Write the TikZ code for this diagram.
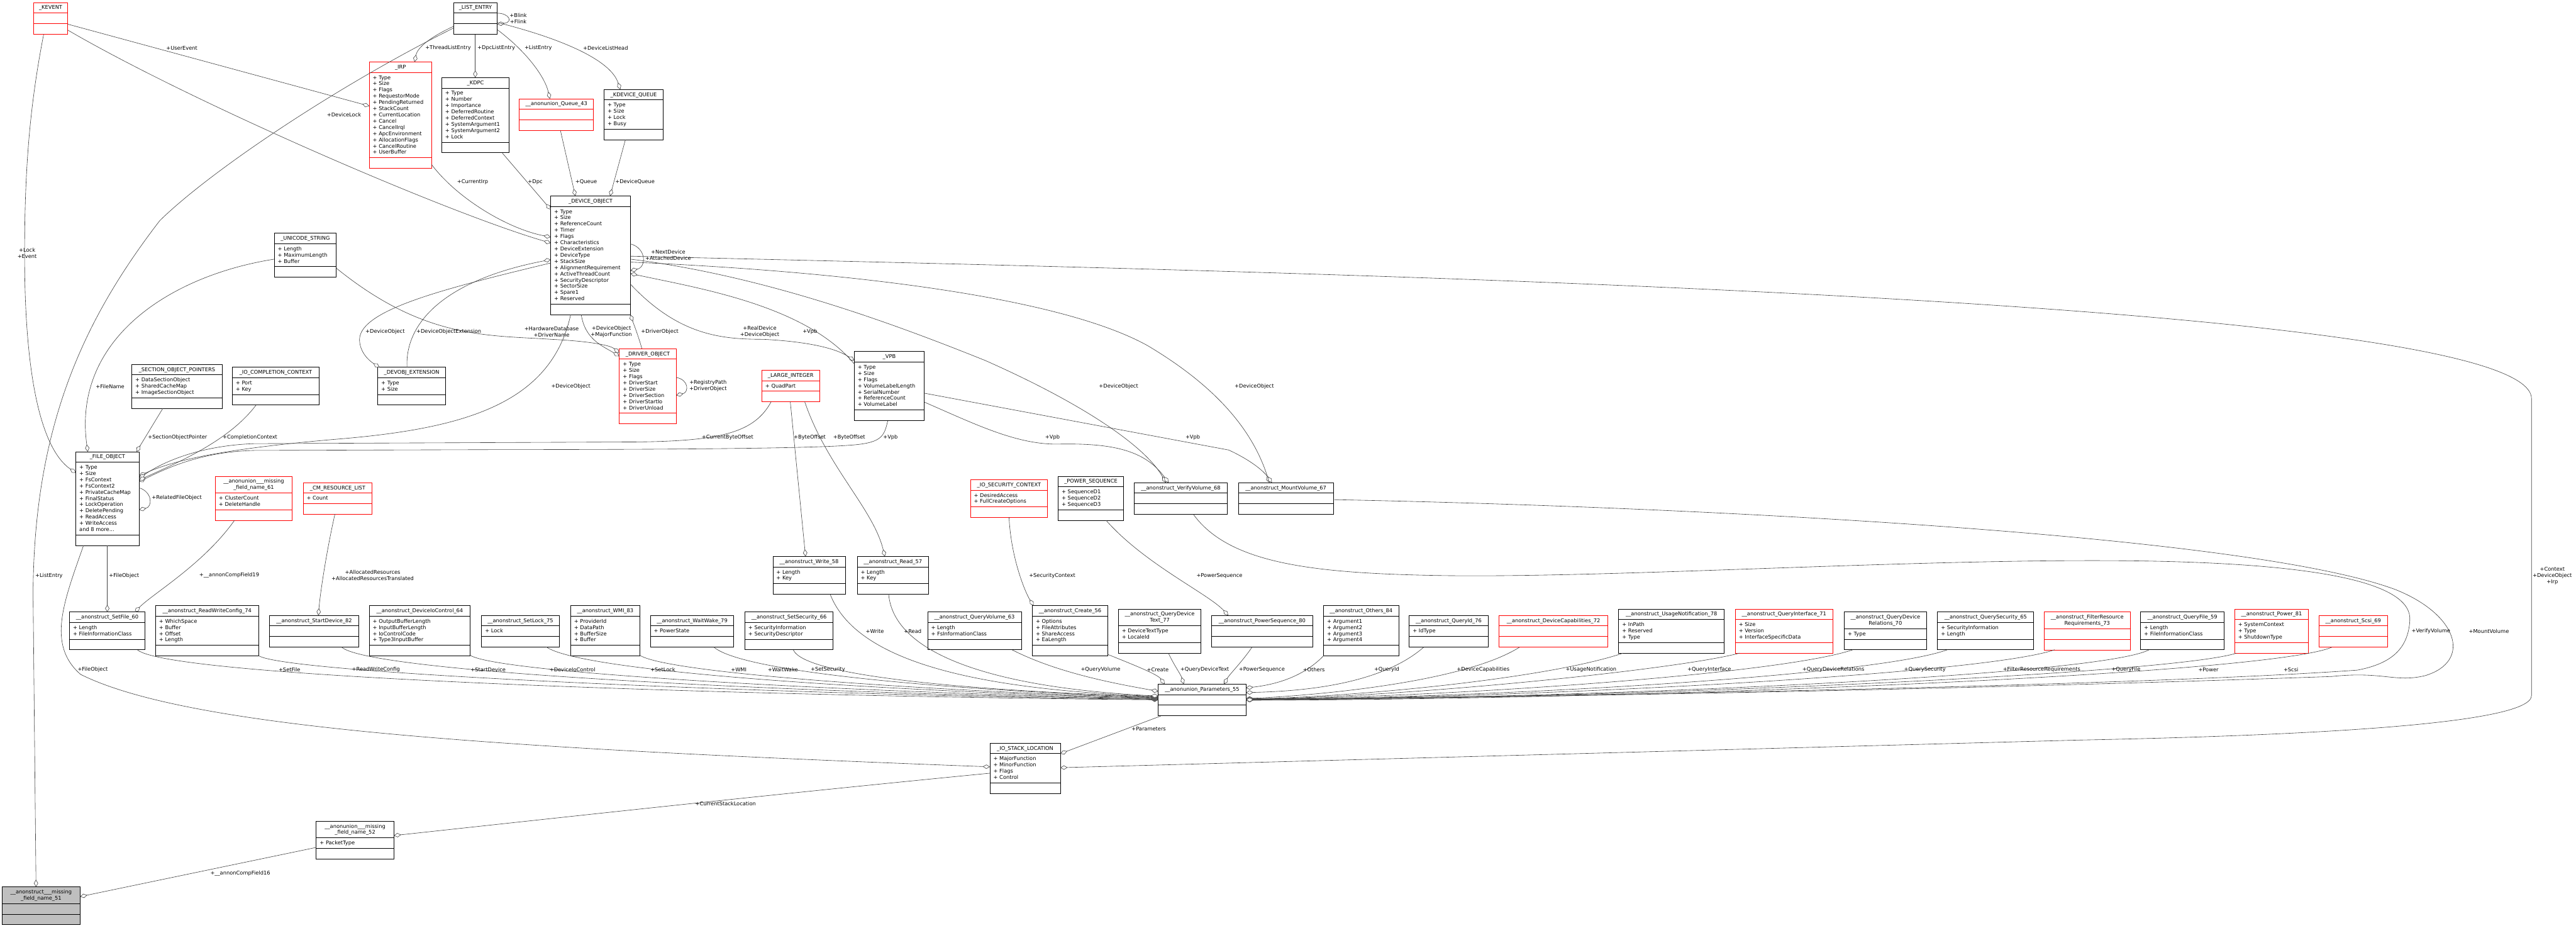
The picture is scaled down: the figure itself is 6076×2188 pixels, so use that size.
\documentclass[tikz,border=0pt]{standalone}
\usepackage{fontspec}
\setmainfont{DejaVu Sans}
\usetikzlibrary{arrows.meta}
\definecolor{edgec}{HTML}{404040}
\definecolor{gfill}{HTML}{BFBFBF}
\tikzset{
  txt/.style={inner sep=0pt, font=\fontsize{12.3}{14.7}\selectfont},
  kbox/.style={draw=black, fill=white, line width=1.3pt},
  rbox/.style={draw=red, fill=white, line width=1.3pt},
  gbox/.style={draw=black, fill=gfill, line width=1.3pt},
  conn/.style={draw=edgec, line width=0.9pt, -{Diamond[fill=white, length=17pt, width=10pt]}}
}
\newcommand\mkbox[9]{%
  \pgfmathsetmacro\mbTH{10+14.7*#5}%
  \pgfmathsetmacro\mbAH{(#6==0) ? 25 : 10+14.7*#6}%
  \pgfmathsetmacro\mbTOT{\mbTH+\mbAH+25}%
  \pgfmathsetmacro\mbWD{#4-#2}%
  \expandafter\xdef\csname bx@#1\endcsname{#2}%
  \expandafter\xdef\csname by@#1\endcsname{#3}%
  \node[#7, minimum width=\mbWD pt, minimum height=\mbTOT pt, anchor=north west, inner sep=0pt, outer sep=0pt] (#1) at (#2,#3) {};
  \draw[#7, fill=none] (#2,#3+\mbTH) -- (#4,#3+\mbTH) (#2,#3+\mbTH+\mbAH) -- (#4,#3+\mbTH+\mbAH);
  \node[txt, anchor=north, align=center] (#1-title) at ({(#2+#4)/2},#3+6) {\rule{0pt}{10pt}#8};
  \if\relax\detokenize{#9}\relax\else
  \node[txt, anchor=north west, align=left] (#1-attr) at (#2+8,#3+\mbTH+6) {\rule{0pt}{10pt}#9};
  \fi
}
\newcommand\pB[3]{([shift={({#2-\csname bx@#1\endcsname},{#3-\csname by@#1\endcsname})}]#1.north west)}
\newcommand\mklab[5][west]{\node[txt, anchor=#1, align=center] (#2) at (#3,#4) {#5};}
\begin{document}
\begin{tikzpicture}[x=1pt,y=-1pt]
\fill[white] (0,0) rectangle (6076,2188);
\useasboundingbox (0,0) rectangle (6076,2188);
% ---------------- boxes ----------------
\mkbox{kevent}{79}{6}{160}{1}{0}{rbox}{\_KEVENT}{}
\mkbox{le}{1070}{6}{1173}{1}{0}{kbox}{\_LIST\_ENTRY}{}
\mkbox{irp}{871}{146}{1018}{1}{13}{rbox}{\_IRP}{+ Type\\+ Size\\+ Flags\\+ RequestorMode\\+ PendingReturned\\+ StackCount\\+ CurrentLocation\\+ Cancel\\+ CancelIrql\\+ ApcEnvironment\\+ AllocationFlags\\+ CancelRoutine\\+ UserBuffer}
\mkbox{kdpc}{1042}{183}{1201}{1}{8}{kbox}{\_KDPC}{+ Type\\+ Number\\+ Importance\\+ DeferredRoutine\\+ DeferredContext\\+ SystemArgument1\\+ SystemArgument2\\+ Lock}
\mkbox{queue}{1225}{233}{1400}{1}{0}{rbox}{\_\_anonunion\_Queue\_43}{}
\mkbox{kdq}{1425}{211}{1564}{1}{4}{kbox}{\_KDEVICE\_QUEUE}{+ Type\\+ Size\\+ Lock\\+ Busy}
\mkbox{devobj}{1299}{462}{1487}{1}{15}{kbox}{\_DEVICE\_OBJECT}{+ Type\\+ Size\\+ ReferenceCount\\+ Timer\\+ Flags\\+ Characteristics\\+ DeviceExtension\\+ DeviceType\\+ StackSize\\+ AlignmentRequirement\\+ ActiveThreadCount\\+ SecurityDescriptor\\+ SectorSize\\+ Spare1\\+ Reserved}
\mkbox{ustr}{647}{550}{793}{1}{3}{kbox}{\_UNICODE\_STRING}{+ Length\\+ MaximumLength\\+ Buffer}
\mkbox{dext}{891}{866}{1051}{1}{2}{kbox}{\_DEVOBJ\_EXTENSION}{+ Type\\+ Size}
\mkbox{iocc}{548}{866}{753}{1}{2}{kbox}{\_IO\_COMPLETION\_CONTEXT}{+ Port\\+ Key}
\mkbox{sop}{311}{859}{524}{1}{3}{kbox}{\_SECTION\_OBJECT\_POINTERS}{+ DataSectionObject\\+ SharedCacheMap\\+ ImageSectionObject}
\mkbox{drv}{1461}{822}{1595}{1}{8}{rbox}{\_DRIVER\_OBJECT}{+ Type\\+ Size\\+ Flags\\+ DriverStart\\+ DriverSize\\+ DriverSection\\+ DriverStartIo\\+ DriverUnload}
\mkbox{fo}{179}{1065}{328}{1}{11}{kbox}{\_FILE\_OBJECT}{+ Type\\+ Size\\+ FsContext\\+ FsContext2\\+ PrivateCacheMap\\+ FinalStatus\\+ LockOperation\\+ DeletePending\\+ ReadAccess\\+ WriteAccess\\and 8 more...}
\mkbox{an61}{508}{1123}{689}{2}{2}{rbox}{\_\_anonunion\_\_\_missing\\\_field\_name\_61}{+ ClusterCount\\+ DeleteHandle}
\mkbox{cm}{715}{1138}{878}{1}{1}{rbox}{\_CM\_RESOURCE\_LIST}{+ Count}
\mkbox{li}{1797}{873}{1933}{1}{1}{rbox}{\_LARGE\_INTEGER}{+ QuadPart}
\mkbox{vpb}{2015}{829}{2180}{1}{7}{kbox}{\_VPB}{+ Type\\+ Size\\+ Flags\\+ VolumeLabelLength\\+ SerialNumber\\+ ReferenceCount\\+ VolumeLabel}
\mkbox{isc}{2289}{1131}{2471}{1}{2}{rbox}{\_IO\_SECURITY\_CONTEXT}{+ DesiredAccess\\+ FullCreateOptions}
\mkbox{ps}{2496}{1123}{2650}{1}{3}{kbox}{\_POWER\_SEQUENCE}{+ SequenceD1\\+ SequenceD2\\+ SequenceD3}
\mkbox{vv}{2675}{1138}{2895}{1}{0}{kbox}{\_\_anonstruct\_VerifyVolume\_68}{}
\mkbox{mv}{2921}{1138}{3145}{1}{0}{kbox}{\_\_anonstruct\_MountVolume\_67}{}
\mkbox{setfile}{164}{1443}{342}{1}{2}{kbox}{\_\_anonstruct\_SetFile\_60}{+ Length\\+ FileInformationClass}
\mkbox{rwc}{367}{1428}{610}{1}{4}{kbox}{\_\_anonstruct\_ReadWriteConfig\_74}{+ WhichSpace\\+ Buffer\\+ Offset\\+ Length}
\mkbox{sd}{636}{1451}{846}{1}{0}{kbox}{\_\_anonstruct\_StartDevice\_82}{}
\mkbox{dic}{871}{1428}{1109}{1}{4}{kbox}{\_\_anonstruct\_DeviceIoControl\_64}{+ OutputBufferLength\\+ InputBufferLength\\+ IoControlCode\\+ Type3InputBuffer}
\mkbox{sl}{1136}{1451}{1319}{1}{1}{kbox}{\_\_anonstruct\_SetLock\_75}{+ Lock}
\mkbox{wmi}{1346}{1428}{1509}{1}{4}{kbox}{\_\_anonstruct\_WMI\_83}{+ ProviderId\\+ DataPath\\+ BufferSize\\+ Buffer}
\mkbox{ww}{1534}{1451}{1731}{1}{1}{kbox}{\_\_anonstruct\_WaitWake\_79}{+ PowerState}
\mkbox{ss}{1757}{1443}{1965}{1}{2}{kbox}{\_\_anonstruct\_SetSecurity\_66}{+ SecurityInformation\\+ SecurityDescriptor}
\mkbox{wr}{1823}{1312}{1994}{1}{2}{kbox}{\_\_anonstruct\_Write\_58}{+ Length\\+ Key}
\mkbox{rd}{2022}{1312}{2190}{1}{2}{kbox}{\_\_anonstruct\_Read\_57}{+ Length\\+ Key}
\mkbox{qv}{2188}{1443}{2409}{1}{2}{kbox}{\_\_anonstruct\_QueryVolume\_63}{+ Length\\+ FsInformationClass}
\mkbox{cr}{2435}{1428}{2613}{1}{4}{kbox}{\_\_anonstruct\_Create\_56}{+ Options\\+ FileAttributes\\+ ShareAccess\\+ EaLength}
\mkbox{qdt}{2638}{1436}{2833}{2}{2}{kbox}{\_\_anonstruct\_QueryDevice\\Text\_77}{+ DeviceTextType\\+ LocaleId}
\mkbox{psq}{2858}{1451}{3096}{1}{0}{kbox}{\_\_anonstruct\_PowerSequence\_80}{}
\mkbox{oth}{3122}{1428}{3299}{1}{4}{kbox}{\_\_anonstruct\_Others\_84}{+ Argument1\\+ Argument2\\+ Argument3\\+ Argument4}
\mkbox{par}{2732}{1613}{2939}{1}{0}{kbox}{\_\_anonunion\_Parameters\_55}{}
\mkbox{qid}{3324}{1451}{3510}{1}{1}{kbox}{\_\_anonstruct\_QueryId\_76}{+ IdType}
\mkbox{dc}{3536}{1451}{3792}{1}{0}{rbox}{\_\_anonstruct\_DeviceCapabilities\_72}{}
\mkbox{un}{3818}{1436}{4067}{1}{3}{kbox}{\_\_anonstruct\_UsageNotification\_78}{+ InPath\\+ Reserved\\+ Type}
\mkbox{qi}{4093}{1436}{4323}{1}{3}{rbox}{\_\_anonstruct\_QueryInterface\_71}{+ Size\\+ Version\\+ InterfaceSpecificData}
\mkbox{qdr}{4350}{1443}{4544}{2}{1}{kbox}{\_\_anonstruct\_QueryDevice\\Relations\_70}{+ Type}
\mkbox{qs}{4570}{1443}{4797}{1}{2}{kbox}{\_\_anonstruct\_QuerySecurity\_65}{+ SecurityInformation\\+ Length}
\mkbox{frr}{4821}{1443}{5025}{2}{0}{rbox}{\_\_anonstruct\_FilterResource\\Requirements\_73}{}
\mkbox{qf}{5049}{1443}{5246}{1}{2}{kbox}{\_\_anonstruct\_QueryFile\_59}{+ Length\\+ FileInformationClass}
\mkbox{pw}{5271}{1436}{5445}{1}{3}{rbox}{\_\_anonstruct\_Power\_81}{+ SystemContext\\+ Type\\+ ShutdownType}
\mkbox{scsi}{5470}{1451}{5631}{1}{0}{rbox}{\_\_anonstruct\_Scsi\_69}{}
\mkbox{ios}{2335}{1752}{2501}{1}{4}{kbox}{\_IO\_STACK\_LOCATION}{+ MajorFunction\\+ MinorFunction\\+ Flags\\+ Control}
\mkbox{an52}{746}{1936}{929}{2}{1}{kbox}{\_\_anonunion\_\_\_missing\\\_field\_name\_52}{+ PacketType}
\mkbox{an51}{5}{2091}{189}{2}{0}{gbox}{\_\_anonstruct\_\_\_missing\\\_field\_name\_51}{}
% ---------------- connectors ----------------
\draw[conn] \pB{le}{1173}{31} .. controls (1200,31) and (1212,52) .. \pB{le}{1173}{57};
\draw[conn] \pB{le}{1070}{62} .. controls (1020,85) and (985,110) .. \pB{irp}{978}{146};
\draw[conn] \pB{le}{1121}{82} -- \pB{kdpc}{1121}{183};
\draw[conn] \pB{le}{1173}{70} .. controls (1240,120) and (1285,180) .. \pB{queue}{1297}{233};
\draw[conn] \pB{le}{1173}{53} .. controls (1320,90) and (1440,140) .. \pB{kdq}{1463}{211};
\draw[conn] \pB{kevent}{160}{57} -- \pB{irp}{871}{250};
\draw[conn] \pB{kevent}{160}{71} .. controls (450,240) and (1050,500) .. \pB{devobj}{1299}{573};
\draw[conn] \pB{irp}{1018}{388} .. controls (1080,470) and (1200,540) .. \pB{devobj}{1299}{559};
\draw[conn] \pB{kdpc}{1185}{361} -- \pB{devobj}{1299}{494};
\draw[conn] \pB{queue}{1322}{308} -- \pB{devobj}{1357}{462};
\draw[conn] \pB{kdq}{1475}{330} -- \pB{devobj}{1439}{462};
\draw[conn] \pB{devobj}{1487}{575} .. controls (1525,585) and (1525,630) .. \pB{devobj}{1487}{638};
\draw[conn] \pB{ustr}{793}{632} .. controls (1000,800) and (1150,790) .. (1300,800) .. controls (1400,805) and (1440,815) .. \pB{drv}{1461}{832};
\draw[conn] \pB{ustr}{647}{611} .. controls (400,650) and (170,800) .. \pB{fo}{207}{1065};
\draw[conn] \pB{devobj}{1371}{742} .. controls (1380,800) and (1420,815) .. \pB{drv}{1461}{840};
\draw[conn] \pB{drv}{1514}{822} .. controls (1505,790) and (1495,765) .. \pB{devobj}{1487}{742};
\draw[conn] \pB{devobj}{1299}{620} .. controls (1050,680) and (850,730) .. (848,800) .. controls (848,830) and (870,850) .. \pB{dext}{895}{866};
\draw[conn] \pB{dext}{960}{866} .. controls (955,760) and (1050,660) .. \pB{devobj}{1299}{612};
\draw[conn] \pB{drv}{1595}{890} .. controls (1625,895) and (1625,925) .. \pB{drv}{1595}{932};
\draw[conn] \pB{devobj}{1346}{742} .. controls (1300,950) and (1100,1010) .. (800,1035) .. controls (500,1060) and (400,1090) .. \pB{fo}{328}{1122};
\draw[conn] \pB{li}{1819}{947} .. controls (1780,1020) and (1700,1040) .. (1500,1042) -- (600,1046) .. controls (480,1050) and (390,1085) .. \pB{fo}{328}{1128};
\draw[conn] \pB{vpb}{2094}{992} .. controls (2085,1030) and (2080,1045) .. (2000,1050) .. controls (1900,1058) and (1500,1060) .. (1200,1060) -- (600,1062) .. controls (480,1065) and (400,1100) .. \pB{fo}{328}{1136};
\draw[conn] \pB{iocc}{604}{955} .. controls (540,1040) and (420,1090) .. \pB{fo}{328}{1132};
\draw[conn] \pB{sop}{384}{963} -- \pB{fo}{322}{1065};
\draw[conn] \pB{fo}{328}{1150} .. controls (360,1160) and (360,1195) .. \pB{fo}{328}{1202};
\draw[conn] \pB{kevent}{103}{81} .. controls (70,250) and (58,400) .. (58,600) .. controls (58,900) and (100,1060) .. \pB{fo}{179}{1115};
\draw[conn] \pB{le}{1070}{66} .. controls (800,200) and (500,400) .. (377,520) .. controls (200,750) and (80,1000) .. (78,1400) -- \pB{an51}{85}{2091};
\draw[conn] \pB{fo}{253}{1286} -- \pB{setfile}{253}{1443};
\draw[conn] \pB{fo}{197}{1286} .. controls (150,1420) and (110,1520) .. (190,1590) .. controls (450,1720) and (1200,1765) .. \pB{ios}{2335}{1808};
\draw[conn] \pB{an61}{553}{1227} .. controls (480,1330) and (360,1400) .. \pB{setfile}{318}{1443};
\draw[conn] \pB{cm}{790}{1212} .. controls (770,1300) and (755,1400) .. \pB{sd}{751}{1451};
\draw[conn] \pB{li}{1864}{947} -- \pB{wr}{1900}{1312};
\draw[conn] \pB{li}{1898}{947} .. controls (1950,1100) and (2060,1200) .. \pB{rd}{2087}{1312};
\draw[conn] \pB{devobj}{1487}{670} .. controls (1600,790) and (1700,800) .. (1800,800) .. controls (1900,805) and (1970,820) .. \pB{vpb}{2015}{850};
\draw[conn] \pB{vpb}{2015}{858} .. controls (1900,720) and (1650,680) .. \pB{devobj}{1487}{645};
\draw[conn] \pB{devobj}{1487}{611} .. controls (1800,650) and (2100,760) .. (2324,850) .. controls (2550,950) and (2700,1050) .. \pB{vv}{2750}{1138};
\draw[conn] \pB{devobj}{1487}{618} .. controls (2000,640) and (2500,700) .. (2707,815) .. controls (2850,900) and (2950,1000) .. \pB{mv}{2994}{1138};
\draw[conn] \pB{vpb}{2180}{948} .. controls (2300,1000) and (2400,1050) .. (2500,1047) .. controls (2620,1045) and (2700,1060) .. \pB{vv}{2756}{1138};
\draw[conn] \pB{vpb}{2180}{927} -- (2898,1061) .. controls (2950,1085) and (2980,1110) .. \pB{mv}{3000}{1138};
\draw[conn] \pB{isc}{2380}{1220} .. controls (2385,1320) and (2420,1400) .. \pB{cr}{2438}{1428};
\draw[conn] \pB{ps}{2609}{1227} .. controls (2700,1330) and (2850,1400) .. \pB{psq}{2897}{1451};
% parameter structs
\draw[conn] \pB{setfile}{324}{1532} .. controls (400,1600) and (1800,1642) .. \pB{par}{2732}{1650};
\draw[conn] \pB{rwc}{610}{1546} .. controls (680,1590) and (1900,1640) .. \pB{par}{2732}{1649};
\draw[conn] \pB{sd}{806}{1526} .. controls (880,1590) and (2000,1638) .. \pB{par}{2732}{1648};
\draw[conn] \pB{dic}{1109}{1545} .. controls (1180,1590) and (2100,1636) .. \pB{par}{2732}{1647};
\draw[conn] \pB{sl}{1288}{1525} .. controls (1380,1590) and (2200,1634) .. \pB{par}{2732}{1646};
\draw[conn] \pB{wmi}{1509}{1545} .. controls (1580,1590) and (2250,1632) .. \pB{par}{2732}{1645};
\draw[conn] \pB{ww}{1684}{1526} .. controls (1760,1590) and (2300,1630) .. \pB{par}{2732}{1644};
\draw[conn] \pB{ss}{1871}{1532} .. controls (1900,1600) and (2350,1630) .. \pB{par}{2732}{1643};
\draw[conn] \pB{wr}{1958}{1401} .. controls (2020,1560) and (2300,1625) .. \pB{par}{2732}{1642};
\draw[conn] \pB{rd}{2096}{1401} .. controls (2110,1560) and (2400,1625) .. \pB{par}{2732}{1641};
\draw[conn] \pB{qv}{2387}{1532} .. controls (2500,1590) and (2650,1615) .. \pB{par}{2732}{1630};
\draw[conn] \pB{cr}{2613}{1543} .. controls (2680,1570) and (2730,1590) .. \pB{par}{2747}{1613};
\draw[conn] \pB{qdt}{2756}{1540} .. controls (2770,1570) and (2785,1590) .. \pB{par}{2792}{1613};
\draw[conn] \pB{psq}{2953}{1526} .. controls (2930,1560) and (2900,1590) .. \pB{par}{2887}{1613};
\draw[conn] \pB{oth}{3122}{1546} .. controls (3070,1600) and (3000,1615) .. \pB{par}{2939}{1622};
\draw[conn] \pB{qid}{3358}{1526} .. controls (3250,1620) and (3050,1630) .. \pB{par}{2939}{1633};
\draw[conn] \pB{dc}{3584}{1526} .. controls (3450,1610) and (3100,1640) .. \pB{par}{2939}{1647};
\draw[conn] \pB{un}{3828}{1540} .. controls (3650,1600) and (3200,1643) .. \pB{par}{2939}{1648};
\draw[conn] \pB{qi}{4103}{1540} .. controls (3950,1580) and (3300,1645) .. \pB{par}{2939}{1648};
\draw[conn] \pB{qdr}{4370}{1532} .. controls (4200,1590) and (3400,1645) .. \pB{par}{2939}{1648};
\draw[conn] \pB{qs}{4593}{1532} .. controls (4420,1595) and (3500,1646) .. \pB{par}{2939}{1649};
\draw[conn] \pB{frr}{4846}{1532} .. controls (4680,1590) and (3600,1647) .. \pB{par}{2939}{1649};
\draw[conn] \pB{qf}{5069}{1532} .. controls (4950,1595) and (3700,1648) .. \pB{par}{2939}{1650};
\draw[conn] \pB{pw}{5275}{1540} .. controls (5120,1590) and (3800,1648) .. \pB{par}{2939}{1650};
\draw[conn] \pB{scsi}{5500}{1526} .. controls (5350,1590) and (3900,1649) .. \pB{par}{2939}{1651};
\draw[conn] \pB{vv}{2815}{1213} .. controls (2900,1330) and (3100,1352) .. (3400,1357) .. controls (3800,1363) and (4500,1318) .. (5000,1322) .. controls (5500,1326) and (5690,1380) .. (5684,1463) .. controls (5680,1530) and (5640,1565) .. (5560,1580) .. controls (5000,1620) and (3500,1645) .. \pB{par}{2939}{1648};
\draw[conn] \pB{mv}{3145}{1178} .. controls (4000,1195) and (5300,1260) .. (5650,1390) .. controls (5800,1450) and (5830,1560) .. (5720,1593) .. controls (5650,1610) and (5620,1582) .. (5500,1595) .. controls (4500,1630) and (3500,1645) .. \pB{par}{2939}{1650};
\draw[conn] \pB{devobj}{1487}{604} .. controls (3000,640) and (5971,700) .. (5971,940) -- (5971,1640) .. controls (5971,1710) and (5400,1735) .. (4900,1745) -- \pB{ios}{2501}{1810};
\draw[conn] \pB{par}{2738}{1688} -- \pB{ios}{2501}{1777};
\draw[conn] \pB{ios}{2335}{1823} .. controls (1800,1875) and (1300,1930) .. \pB{an52}{929}{1970};
\draw[conn] \pB{an52}{746}{1998} -- \pB{an51}{189}{2114};
% ---------------- labels ----------------
\mklab{lBlink}{1202}{43}{+Blink\\+Flink}
\mklab{lThread}{1003}{113}{+ThreadListEntry}
\mklab{lDpcLE}{1126}{113}{+DpcListEntry}
\mklab{lLE}{1237}{113}{+ListEntry}
\mklab{lDLH}{1375}{113}{+DeviceListHead}
\mklab{lUserEvent}{392}{113}{+UserEvent}
\mklab{lDeviceLock}{771}{271}{+DeviceLock}
\mklab{lCurIrp}{1078}{429}{+CurrentIrp}
\mklab{lDpc}{1245}{429}{+Dpc}
\mklab{lQueue}{1357}{429}{+Queue}
\mklab{lDQ}{1451}{429}{+DeviceQueue}
\mklab[center]{lNext}{1576}{602}{+NextDevice\\+AttachedDevice}
\mklab{lDOext}{862}{782}{+DeviceObject}
\mklab{lDOE}{982}{782}{+DeviceObjectExtension}
\mklab[center]{lHW}{1301}{782}{+HardwareDatabase\\+DriverName}
\mklab[center]{lDOMF}{1442}{782}{+DeviceObject\\+MajorFunction}
\mklab{lDrvObj}{1512}{782}{+DriverObject}
\mklab[center]{lRegPath}{1670}{910}{+RegistryPath\\+DriverObject}
\mklab{lDOfo}{1300}{911}{+DeviceObject}
\mklab[center]{lRealDev}{1792}{782}{+RealDevice\\+DeviceObject}
\mklab{lVpbDO}{1893}{782}{+Vpb}
\mklab{lFileName}{226}{911}{+FileName}
\mklab{lSOP}{349}{1032}{+SectionObjectPointer}
\mklab{lCC}{525}{1032}{+CompletionContext}
\mklab{lRFO}{358}{1174}{+RelatedFileObject}
\mklab[east]{lCBO}{1777}{1032}{+CurrentByteOffset}
\mklab{lBO1}{1872}{1032}{+ByteOffset}
\mklab{lBO2}{1965}{1032}{+ByteOffset}
\mklab{lVpbFO}{2083}{1032}{+Vpb}
\mklab{lDOvv}{2592}{911}{+DeviceObject}
\mklab{lDOmv}{2912}{911}{+DeviceObject}
\mklab{lVpbvv}{2465}{1032}{+Vpb}
\mklab{lVpbmv}{2796}{1032}{+Vpb}
\mklab{lSecCtx}{2427}{1357}{+SecurityContext}
\mklab{lPSeq}{2822}{1357}{+PowerSequence}
\mklab[center]{lLockEvent}{64}{597}{+Lock\\+Event}
\mklab[east]{lListEntry2}{148}{1357}{+ListEntry}
\mklab{lFOsf}{257}{1357}{+FileObject}
\mklab{lFOios}{183}{1579}{+FileObject}
\mklab{lACF19}{470}{1357}{+\_\_annonCompField19}
\mklab[center]{lAR}{879}{1357}{+AllocatedResources\\+AllocatedResourcesTranslated}
\mklab{lCSL}{1640}{1895}{+CurrentStackLocation}
\mklab{lACF16}{496}{2059}{+\_\_annonCompField16}
\mklab[center]{lCtx}{6020}{1358}{+Context\\+DeviceObject\\+Irp}
\mklab{lVV}{5688}{1488}{+VerifyVolume}
\mklab{lMV}{5823}{1488}{+MountVolume}
\mklab{lParams}{2669}{1719}{+Parameters}
\mklab{lWrite}{2042}{1488}{+Write}
\mklab{lRead}{2132}{1488}{+Read}
\mklab{lSetFile}{657}{1579}{+SetFile}
\mklab{lRWC}{830}{1579}{+ReadWriteConfig}
\mklab{lSD}{1110}{1579}{+StartDevice}
\mklab{lDIC}{1296}{1579}{+DeviceIoControl}
\mklab{lSL}{1534}{1579}{+SetLock}
\mklab{lWMI}{1724}{1579}{+WMI}
\mklab{lWW}{1811}{1579}{+WaitWake}
\mklab{lSS}{1912}{1579}{+SetSecurity}
\mklab{lQV}{2549}{1579}{+QueryVolume}
\mklab{lCR}{2705}{1579}{+Create}
\mklab{lQDT}{2784}{1579}{+QueryDeviceText}
\mklab{lPSQ}{2922}{1579}{+PowerSequence}
\mklab{lOTH}{3073}{1579}{+Others}
\mklab{lQID}{3241}{1579}{+QueryId}
\mklab{lDC}{3436}{1579}{+DeviceCapabilities}
\mklab{lUN}{3693}{1579}{+UsageNotification}
\mklab{lQI}{3980}{1579}{+QueryInterface}
\mklab{lQDR}{4251}{1579}{+QueryDeviceRelations}
\mklab{lQS}{4491}{1579}{+QuerySecurity}
\mklab{lFRR}{4724}{1579}{+FilterResourceRequirements}
\mklab{lQF}{4980}{1579}{+QueryFile}
\mklab{lPW}{5185}{1579}{+Power}
\mklab{lSCSI}{5386}{1579}{+Scsi}
\end{tikzpicture}
\end{document}
